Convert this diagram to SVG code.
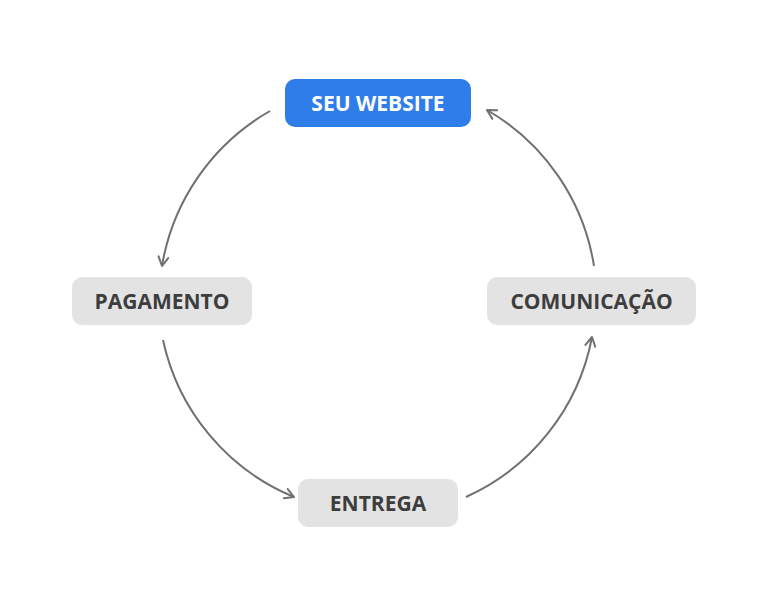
<svg xmlns="http://www.w3.org/2000/svg" width="769" height="607" viewBox="0 0 769 607">
<defs>
<style>
.box{fill:#e3e3e3}
.hl{fill:#2f7de9}
.t{font-family:"Open Sans","Liberation Sans",sans-serif;font-weight:700;font-size:21px;text-anchor:middle;fill:#3d3d3d}
.tw{fill:#ffffff}
.c{fill:none;stroke:#707070;stroke-width:2}
</style>
<marker id="ah" viewBox="0 0 12 12" refX="10" refY="6" markerWidth="12" markerHeight="12" markerUnits="userSpaceOnUse" orient="auto">
<path d="M1,1 L10,6 L1,11" fill="none" stroke="#707070" stroke-width="2" stroke-linecap="round" stroke-linejoin="round"/>
</marker>
</defs>
<rect width="769" height="607" fill="#ffffff"/>
<g id="connectors">
<path class="c" d="M270,111 A220,220 0 0,0 162,266" marker-end="url(#ah)"/>
<path class="c" d="M163,340 A220,220 0 0,0 294,497" marker-end="url(#ah)"/>
<path class="c" d="M466,497 A220,220 0 0,0 592,337" marker-end="url(#ah)"/>
<path class="c" d="M594,266 A220,220 0 0,0 487,110" marker-end="url(#ah)"/>
</g>
<g id="seu-website">
<rect class="hl" x="285" y="79" width="186" height="48" rx="10"/>
<text class="t tw" x="378" y="110.5">SEU WEBSITE</text>
</g>
<g id="pagamento">
<rect class="box" x="72" y="277" width="180" height="48" rx="10"/>
<text class="t" x="162" y="308.5">PAGAMENTO</text>
</g>
<g id="comunicacao">
<rect class="box" x="487" y="277" width="209" height="48" rx="10"/>
<text class="t" x="591.5" y="308.5">COMUNICAÇÃO</text>
</g>
<g id="entrega">
<rect class="box" x="298" y="479" width="160" height="48" rx="10"/>
<text class="t" x="378" y="510.5">ENTREGA</text>
</g>
</svg>
